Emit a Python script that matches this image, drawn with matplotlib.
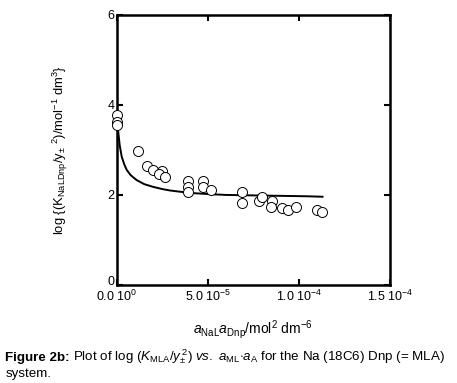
import matplotlib
matplotlib.use("Agg")
import matplotlib.pyplot as plt

plt.rcParams['font.family'] = ['Liberation Sans', 'DejaVu Sans']
plt.rcParams['mathtext.fontset'] = 'custom'
plt.rcParams['mathtext.rm'] = 'Liberation Sans'
plt.rcParams['mathtext.it'] = 'Liberation Sans:italic'
plt.rcParams['mathtext.bf'] = 'Liberation Sans:bold'

# measured points (x in mol^2 dm^-6, y = log K)
pt_x = [0.0, 0.0, 0.0, 11.4e-6, 16.3e-6, 20.0e-6, 24.7e-6, 23.3e-6, 26.4e-6,
        39.2e-6, 39.2e-6, 39.2e-6, 47.1e-6, 47.1e-6, 51.6e-6,
        68.5e-6, 69.0e-6, 78.0e-6, 79.8e-6, 85.3e-6, 84.6e-6,
        90.8e-6, 94.0e-6, 98.4e-6, 109.7e-6, 112.6e-6]
pt_y = [3.78, 3.63, 3.56, 2.98, 2.64, 2.56, 2.53, 2.47, 2.39,
        2.30, 2.17, 2.07, 2.31, 2.17, 2.10,
        2.07, 1.83, 1.87, 1.95, 1.86, 1.74,
        1.70, 1.67, 1.74, 1.67, 1.62]

# fitted curve
fit_x = [0.2e-6, 0.7e-6, 1.5e-6, 2.6e-6, 4.0e-6, 5.3e-6, 7.5e-6, 10.8e-6, 15e-6,
         19.8e-6, 25e-6, 29e-6, 35e-6, 42e-6, 50e-6, 60e-6, 75e-6, 90e-6,
         105e-6, 113e-6]
fit_y = [3.55, 3.40, 3.10, 2.85, 2.68, 2.56, 2.44, 2.33, 2.24,
         2.18, 2.13, 2.10, 2.07, 2.04, 2.02, 2.00, 1.99, 1.98, 1.97, 1.96]

xticks = [0.0, 5.0e-5, 1.0e-4, 1.5e-4]
xtick_labels = ["0.0 10$^{0}$", "5.0 10$^{-5}$", "1.0 10$^{-4}$", "1.5 10$^{-4}$"]
yticks = [0, 2, 4, 6]

fig = plt.figure(figsize=(4.57, 3.83), dpi=100)
ax = fig.add_axes([0.256, 0.256, 0.597, 0.705])

ax.plot(fit_x, fit_y, color='black', lw=1.4, zorder=2)
ax.plot(pt_x, pt_y, 'o', ms=7.2, mfc='white', mec='black', mew=0.7, zorder=3,
        clip_on=False)

ax.set_xlim(0, 1.5e-4)
ax.set_ylim(0, 6)
ax.set_xticks(xticks)
ax.set_xticklabels(xtick_labels)
ax.set_yticks(yticks)
ax.tick_params(direction='in', top=True, right=True, length=4, width=1.5,
               labelsize=9)
ax.tick_params(axis='x', pad=3)
ax.tick_params(axis='y', pad=2)
for s in ax.spines.values():
    s.set_linewidth(1.8)
# the "0" of the y axis sits just above the x labels
ax.get_yticklabels()[0].set_va('baseline')

ax.set_ylabel(r"log {(K$_{\rm NaLDnp}$/y$_{\pm}$ $^{2}$)/mol$^{-1}$ dm$^{3}$}",
              fontsize=9.4, labelpad=27)
ax.set_xlabel(r"$\mathit{a}_{\rm NaL}\mathit{a}_{\rm Dnp}$/mol$^{2}$ dm$^{-6}$",
              fontsize=10, labelpad=10)

# caption: bold lead-in, then the rest placed right after it
head = fig.text(0.012, 0.058, "Figure 2b:", fontsize=9.6, fontweight='bold')
r = fig.canvas.get_renderer()
bb = head.get_window_extent(renderer=r)
x_next = (bb.x1 + 3) / fig.bbox.width
fig.text(x_next, 0.058,
         r"Plot of log ($\mathit{K}_{\rm MLA}$/$\mathit{y}_{\pm}^{\,2}$) "
         r"$\mathit{vs.}$ $\mathit{a}_{\rm ML}$$\cdot$$\mathit{a}_{\rm A}$ for the Na (18C6) Dnp (= MLA)",
         fontsize=9.6)
fig.text(0.012, 0.016, "system.", fontsize=9.6)

fig.savefig("out.png", dpi=100)
